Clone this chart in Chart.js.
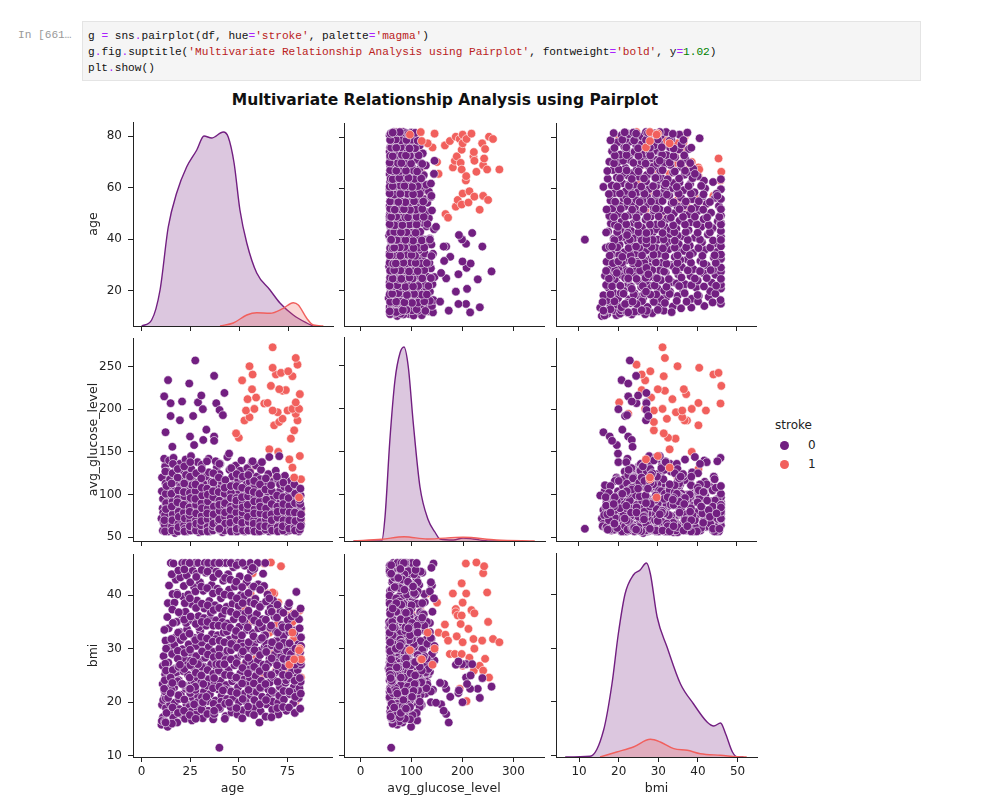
<!doctype html>
<html>
<head>
<meta charset="utf-8">
<title>pairplot - stroke</title>
<style>
  body { margin: 0; width: 1000px; height: 805px; position: relative; overflow: hidden; background: #fff; font-family: "DejaVu Sans", sans-serif; color: #222; }
  .prompt { position: absolute; left: 18px; top: 27px; font: 11.15px/16px "Liberation Mono", "DejaVu Sans Mono", monospace; color: #999; }
  .cell { position: absolute; left: 82px; top: 21px; width: 837px; height: 58px; background: #f5f5f5; border: 1px solid #e4e4e4; }
  .cell pre { margin: 0; padding: 6px 0 0 5px; font: 11.15px/16px "Liberation Mono", "DejaVu Sans Mono", monospace; color: #111; }
  .o { color: #aa22ff; } .s { color: #ba2121; } .n { color: #008000; }
  #title { position: absolute; left: 0; width: 890px; top: 91px; text-align: center; font-weight: bold; font-size: 15.5px; color: #111; }
  .panel { position: absolute; }
  .legend { position: absolute; font-size: 12px; color: #222; }
  .dot { position: absolute; width: 9px; height: 9px; border-radius: 50%; }
</style>
<script src="https://cdn.jsdelivr.net/npm/chart.js@4.4.0/dist/chart.umd.min.js"></script>
</head>
<body>
<div class="prompt">In [661…</div>
<div class="cell"><pre>g <span class="o">=</span> sns<span class="o">.</span>pairplot(df, hue<span class="o">=</span><span class="s">'stroke'</span>, palette<span class="o">=</span><span class="s">'magma'</span>)
g<span class="o">.</span>fig<span class="o">.</span>suptitle(<span class="s">'Multivariate Relationship Analysis using Pairplot'</span>, fontweight<span class="o">=</span><span class="s">'bold'</span>, y<span class="o">=</span><span class="n">1.02</span>)
plt<span class="o">.</span>show()</pre></div>
<div id="title">Multivariate Relationship Analysis using Pairplot</div>

<div class="legend" style="left:775px; top:418px;">stroke</div>
<div class="dot" style="left:780px; top:441px; background:#721f81;"></div>
<div class="legend" style="left:808px; top:438px;">0</div>
<div class="dot" style="left:780px; top:460px; background:#f1605d;"></div>
<div class="legend" style="left:808px; top:457px;">1</div>

<script>
// variables, in pairplot order: [age, avg_glucose_level, bmi]
const varNames = ['age', 'avg_glucose_level', 'bmi'];
const xTicks = [[0, 25, 50, 75], [0, 100, 200, 300], [10, 20, 30, 40, 50]];
const yTicks = [[20, 40, 60, 80], [50, 100, 150, 200, 250], [10, 20, 30, 40]];

// stroke = 0 records [age, avg_glucose_level, bmi]
const noStrokeA = [
  [10.2,72,15.8],[11.0,95,17.2],[10.5,120,19.5],[11.8,61,21.0],[10.8,84,23.4],[12.1,133,25.2],[11.3,67,28.6],[10.4,104,16.5],[12.5,88,18.9],[11.6,142,22.3],[10.9,58,26.8],[12.3,113,31.5],[11.1,79,20.4],
  [13.4,99,15.4],[14.2,65,18.0],[13.1,127,21.6],[14.8,83,24.9],[13.7,57,27.4],[14.5,110,30.2],[13.9,74,33.8],[14.1,140,41.8],[15.0,92,46.0],[13.5,61,38.5],[14.6,118,19.7],[15.2,69,23.0],[13.2,88,35.9],
  [16.3,60,17.1],[17.1,104,19.9],[16.7,76,22.7],[17.8,131,25.5],[16.1,89,28.9],[17.4,63,32.1],[18.0,115,35.0],[16.9,97,38.6],[17.6,70,42.9],[16.4,143,45.9],[18.3,82,16.2],[17.2,55,26.3],[16.8,124,30.7],[18.1,93,40.4],
  [19.4,71,18.7],[20.2,118,21.4],[19.1,86,24.1],[20.7,59,27.2],[21.0,102,29.9],[19.7,136,33.1],[20.4,66,36.4],[21.3,91,39.7],[19.9,109,43.3],[20.9,77,46.0],[19.2,58,20.6],[21.5,128,25.8],[20.1,95,31.6],[21.2,62,17.5],
  [22.3,84,16.9],[23.1,61,19.6],[22.8,123,22.5],[23.9,97,25.1],[22.0,70,28.0],[24.2,109,30.8],[23.4,57,33.6],[22.6,141,36.9],[24.0,79,40.1],[23.2,92,43.7],[22.4,64,46.0],[24.5,116,19.1],[23.7,75,27.0],[22.9,101,34.8],
  [25.3,58,18.2],[26.1,93,20.9],[25.6,130,23.8],[26.8,72,26.5],[25.0,105,29.3],[27.2,82,32.0],[26.4,63,35.2],[25.8,119,38.3],[27.0,96,41.5],[26.3,68,44.6],[27.5,87,46.0],[25.4,145,27.8],[26.9,60,24.0],[25.9,111,16.6],
  [28.2,99,17.8],[29.0,66,21.1],[28.6,114,24.6],[29.8,85,27.6],[28.0,59,30.5],[30.1,127,33.3],[29.3,76,36.1],[28.5,104,39.0],[30.0,62,42.4],[29.1,90,46.0],[28.8,138,20.0],[30.4,73,25.9],[29.5,56,34.0],[28.3,81,44.0],
  [31.2,77,19.3],[32.0,108,22.0],[31.5,62,24.8],[32.7,94,28.3],[31.0,135,31.1],[33.2,69,34.3],[32.3,100,37.5],[31.7,58,40.8],[33.0,121,44.2],[32.5,83,46.0],[31.4,91,17.0],[33.4,64,29.0],[32.1,112,35.7],[31.9,73,26.6],
  [34.3,88,18.4],[35.1,60,21.5],[34.6,126,24.3],[35.8,79,27.1],[34.0,103,29.8],[36.2,66,32.7],[35.4,94,35.6],[34.8,57,38.9],[36.0,115,41.9],[35.2,71,45.0],[34.5,142,30.3],[36.4,85,23.0],[35.6,62,36.7],[34.2,97,46.0],
  [37.2,64,17.6],[38.0,99,20.3],[37.5,80,23.5],[38.7,132,26.2],[37.0,59,29.4],[39.2,91,32.5],[38.3,107,35.3],[37.7,68,38.1],[39.0,85,41.2],[38.5,118,44.4],[37.4,74,46.0],[39.4,60,22.4],[38.1,139,31.8],[37.9,95,27.9],
  [40.3,75,18.8],[41.1,110,21.2],[40.6,58,24.0],[41.8,96,27.3],[40.0,124,30.0],[42.2,70,33.0],[41.4,87,36.2],[40.8,102,39.4],[42.0,63,42.7],[41.2,81,46.0],[40.4,136,25.7],[42.4,92,28.5],[41.6,56,35.0],[40.9,116,20.1],
  [43.2,98,17.4],[44.0,67,20.6],[43.5,113,23.2],[44.7,59,26.0],[43.0,84,28.8],[45.2,129,31.7],[44.3,76,34.7],[43.7,93,37.8],[45.0,61,41.0],[44.5,105,43.9],[43.4,71,46.0],[45.4,88,22.2],[44.1,144,29.6],[43.9,64,33.2],
  [46.3,62,18.1],[47.1,90,20.8],[46.6,121,23.9],[47.8,73,26.9],[46.0,100,29.7],[48.2,57,32.4],[47.4,84,35.5],[46.8,111,38.4],[48.0,69,41.6],[47.2,95,45.2],[46.4,78,46.0],[48.4,134,27.7],[47.6,58,24.5],[46.9,106,31.0],
  [49.3,85,17.7],[50.1,60,20.0],[49.6,106,22.8],[50.8,128,25.4],[49.0,71,28.2],[51.2,94,31.3],[50.3,58,34.1],[49.7,117,36.8],[51.0,80,40.0],[50.5,66,43.5],[49.4,101,46.0],[51.4,140,29.0],[50.0,75,24.4],[49.9,89,38.0],
  [52.2,70,18.5],[53.0,103,21.6],[52.6,59,24.2],[53.8,88,27.5],[52.0,119,30.4],[54.2,64,33.5],[53.3,95,36.6],[52.7,76,39.8],[54.0,112,42.4],[53.1,57,45.5],[52.4,82,29.0],[54.4,131,23.3],[53.5,67,20.2],[52.9,98,35.0],
  [55.3,91,18.0],[56.1,63,21.3],[55.6,115,24.6],[56.8,76,27.3],[55.0,58,30.1],[57.2,101,32.9],[56.4,84,35.9],[55.8,126,38.7],[57.0,68,41.4],[56.3,93,44.5],[55.4,61,26.1],[57.5,109,29.5],[56.7,138,22.0],[55.9,72,46.0],
  [58.2,59,19.0],[59.0,87,21.9],[58.6,107,24.9],[59.8,70,27.8],[58.0,96,30.9],[60.1,62,33.8],[59.3,121,36.5],[58.5,80,39.3],[60.0,99,42.0],[60.6,66,16.2],[58.8,134,26.4],[60.4,75,23.1],[59.5,57,31.8],[58.3,110,35.1],[59.7,88,46.0],
  [61.2,82,18.3],[62.0,60,21.0],[61.5,104,24.0],[62.7,72,27.0],[61.0,118,29.6],[63.2,91,32.6],[62.3,64,35.5],[61.7,97,38.2],[63.0,77,41.7],[62.5,58,44.0],[61.4,129,22.6],[63.4,86,30.4],[62.1,68,34.0],[63.6,72,46.0],
  [64.3,65,19.6],[65.1,98,22.4],[64.6,79,25.2],[65.8,58,28.1],[64.0,112,31.0],[66.2,88,33.9],[65.4,70,36.8],[64.8,103,40.1],[66.0,61,23.7],[65.2,124,27.2],[64.5,82,30.0],[66.4,94,37.6],[65.6,57,21.0],
  [67.2,93,18.6],[68.0,61,21.8],[67.5,115,24.7],[68.7,74,27.7],[67.0,84,30.6],[69.2,58,33.2],[68.3,101,36.0],[67.7,67,39.0],[69.0,128,25.6],[68.5,79,28.9],[67.4,95,20.1],[69.4,63,31.5],
  [70.3,71,19.9],[71.1,104,22.9],[70.6,59,25.8],[71.8,86,28.6],[70.0,118,31.4],[72.2,66,34.4],[71.4,92,37.0],[70.8,76,21.2],[72.0,58,26.5],[71.2,112,29.9],[70.4,82,17.7],[72.4,97,32.8],
  [73.2,60,20.5],[74.0,89,23.6],[73.5,109,26.7],[74.7,68,29.5],[73.0,77,32.3],[75.2,99,35.4],[74.3,57,24.1],[73.7,122,27.9],[75.0,84,22.0],[74.5,64,18.4],[73.4,95,30.9],[75.4,73,37.9],
  [76.3,92,21.5],[77.1,63,24.5],[76.6,78,27.4],[77.8,105,30.3],[76.0,58,33.1],[78.2,86,22.8],[77.4,70,25.9],[76.8,116,29.0],[78.0,61,19.8],[77.2,97,36.0],
  [79.2,66,21.8],[80.0,88,24.7],[79.5,59,27.6],[80.7,104,30.8],[79.0,75,33.4],[81.2,62,22.6],[80.3,93,26.0],[81.5,70,29.3],[82.0,84,32.1],[80.8,57,20.8],[81.8,99,23.8],[82.0,65,27.0],[79.6,96,40.6],[81.0,78,35.5]
];

// more stroke = 0 records filling the dense part of the cloud
const noStrokeB = [
  [12.0,76,16.4],[12.4,101,20.7],[11.9,64,24.1],[12.2,127,27.2],[12.6,90,30.0],[11.7,70,33.5],[12.8,110,18.0],[12.0,57,22.0],[12.5,83,25.9],
  [15.6,63,16.0],[15.9,92,19.0],[15.4,113,22.2],[16.0,77,26.0],[15.7,58,29.0],[15.3,101,31.8],[16.1,136,34.8],[15.8,70,37.3],[15.5,86,43.9],[15.9,125,40.2],
  [18.7,95,18.0],[18.9,66,21.3],[18.5,120,23.9],[19.0,80,26.6],[18.6,57,29.6],[18.8,105,33.0],[19.1,74,36.8],[18.4,91,40.1],[18.9,62,44.6],[18.6,130,28.1],
  [21.8,64,18.4],[22.0,98,20.5],[21.7,79,23.2],[21.9,133,26.2],[22.1,60,29.2],[21.6,88,32.2],[21.9,113,35.4],[22.2,72,38.5],[21.7,103,41.7],[22.0,57,44.8],
  [24.8,102,17.6],[25.0,69,21.7],[24.7,85,24.6],[25.1,58,26.9],[24.9,121,29.8],[24.6,76,32.8],[25.2,96,36.0],[24.8,63,39.4],[25.0,138,42.4],[24.7,80,46.0],
  [27.8,61,16.9],[28.0,88,19.2],[27.7,104,22.3],[27.9,70,25.5],[28.1,125,28.6],[27.6,95,31.6],[27.9,58,34.6],[28.0,78,37.6],[27.7,112,40.7],[28.1,66,43.4],
  [30.8,90,18.6],[31.0,57,20.9],[30.7,119,23.7],[30.9,75,26.6],[31.1,99,29.5],[30.6,64,32.2],[30.9,130,35.0],[31.0,84,38.4],[30.7,69,41.6],[30.9,108,44.7],
  [33.8,59,17.8],[34.0,84,20.2],[33.7,107,23.1],[33.9,71,26.0],[34.1,92,28.9],[33.6,139,31.9],[33.9,62,35.0],[34.0,100,38.1],[33.7,78,41.3],[33.9,57,44.4],
  [36.8,97,16.8],[37.0,72,19.7],[36.7,58,22.6],[36.9,114,25.3],[37.1,86,28.4],[36.6,63,31.3],[36.9,125,34.3],[37.0,77,37.2],[36.7,104,40.3],[36.9,66,43.3],
  [39.8,68,19.0],[40.0,93,22.9],[39.7,120,25.9],[39.9,59,28.7],[40.1,81,31.5],[39.6,103,34.3],[39.9,71,37.6],[40.0,136,40.7],[39.7,60,44.0],[39.9,88,46.0],
  [42.8,87,16.9],[43.0,61,19.7],[42.7,101,22.4],[42.9,74,25.1],[43.1,117,27.9],[42.6,58,31.2],[42.9,90,34.2],[43.0,66,37.1],[42.7,108,40.1],[42.9,79,43.2],
  [45.8,73,19.1],[46.0,102,22.0],[45.7,60,25.0],[45.9,86,28.0],[46.1,131,30.9],[45.6,67,33.9],[45.9,96,36.9],[46.0,57,39.9],[45.7,82,42.9],[45.9,110,46.0],
  [48.8,96,18.9],[49.0,63,21.7],[48.7,79,24.6],[48.9,110,27.3],[49.1,57,30.2],[48.6,88,33.3],[48.9,124,36.4],[49.0,70,39.4],[48.7,93,42.5],[48.9,60,45.6],
  [51.8,62,17.0],[52.0,90,20.6],[51.7,108,23.5],[51.9,74,26.4],[52.1,58,29.5],[51.6,97,32.5],[51.9,79,35.5],[52.0,121,38.5],[51.7,67,41.5],[51.9,85,46.0],
  [54.8,82,19.2],[55.0,59,22.3],[54.7,98,25.4],[54.9,123,28.3],[55.1,68,31.2],[54.6,88,34.0],[54.9,58,37.1],[55.0,105,40.4],[54.7,74,43.2],
  [57.8,70,17.6],[58.0,97,20.4],[57.7,61,23.5],[57.9,116,26.6],[58.1,83,29.7],[57.6,66,32.3],[57.9,92,35.3],[58.0,57,38.4],[57.7,103,41.6],[57.9,78,44.9],
  [60.8,92,19.6],[61.0,68,22.7],[60.7,57,25.8],[60.9,112,28.8],[61.1,78,31.7],[60.6,101,34.8],[60.9,63,37.8],[61.0,86,41.0],
  [63.8,59,17.3],[64.0,84,20.4],[63.7,106,23.4],[63.9,71,26.5],[64.1,94,29.4],[63.6,63,32.5],[63.9,119,35.4],[64.0,76,38.8],
  [66.8,77,17.2],[67.0,104,22.1],[66.7,62,25.1],[66.9,89,28.2],[67.1,58,31.2],[66.6,111,34.3],[66.9,70,36.9],
  [69.8,86,18.9],[70.0,62,23.8],[69.7,99,26.9],[69.9,73,29.9],[70.1,57,33.0],[69.6,121,35.8],[69.9,80,38.2],
  [72.8,97,19.1],[73.0,70,22.1],[72.7,58,25.1],[72.9,114,28.1],[73.1,81,31.1],[72.6,63,34.0],[72.9,89,36.7],
  [75.8,66,19.0],[76.0,87,22.0],[75.7,107,25.0],[75.9,60,28.0],[76.1,79,31.0],[75.6,96,34.0],[75.9,70,38.5],
  [78.8,79,18.0],[79.0,101,21.0],[78.7,61,24.0],[78.9,90,27.0],[79.1,69,30.0],[78.6,112,33.0],[78.9,58,36.5],
  [81.6,89,18.8],[81.9,72,21.6],[81.4,59,24.5],[81.7,107,27.5],[82.0,77,30.5],[81.3,94,33.8],[81.8,63,37.5]
];

// stroke = 0 records with high glucose or low bmi
const noStrokeHigh = [
  [27.6,257,22.9],[13.6,234,20.8],[24.5,230,22.5],[37.3,239,24.5],[11.6,215,22.5],[14.9,207,24.6],[20.8,209,23.4],[29.0,208,27.1],[30.7,216,25.0],[31.5,200,20.0],
  [38.4,207,27.1],[40.1,199,27.1],[42.6,219,27.1],[14.9,192,21.7],[19.7,187,27.0],[26.5,192,27.6],[41.8,193,22.2],[33.3,176,21.0],[12.3,173,16.2],[24.9,168,22.5],
  [37.3,168,17.8],[31.7,164,23.4],[27.0,158,19.6],[15.8,156,23.6],[37.3,163,18.4],[45.0,148,19.9],[57.1,139,45.1],[65.7,144,39.4],[70.8,145,30.5],[61.9,138,32.0],[40.0,60,11.5]
];

// stroke = 1 records [age, avg_glucose_level, bmi], mostly hidden under the purple cloud
const withStroke = [
  [65.7,153,33.0],[76.8,165.5,34.5],[50.0,166.6,32.6],[48.6,171.7,31.5],[78.5,175.2,29.0],[68.2,181.1,40.3],[70.8,185,29.0],[52.9,186.8,37.4],
  [80.2,186.8,36.8],[72.5,188.7,32.3],[55.5,190.6,36.2],[79.3,194.5,22.5],[70.0,196.4,34.6],[53.7,198.4,42.2],[67.4,198.4,29.0],[75.1,198.4,36.2],
  [58.0,200.3,38.6],[77.6,200.3,31.2],[81.0,200.3,26.8],[63.1,206.6,45.9],[64.8,207.3,40.3],[79.3,207.9,20.2],[54.5,211.7,33.7],[58.9,213.6,28.3],
  [81.4,217.6,37.2],[72.5,221.5,31.8],[74.2,222.3,25.9],[56.8,223.3,30.0],[70.8,223.4,36.6],[66.5,227.3,46.1],[51.7,233.7,26.8],[77.6,238.6,31.5],
  [57.1,240.6,44.1],[69.1,240.6,25.9],[71.7,242.5,45.4],[75.4,244.4,28.1],[67.4,248.4,40.5],[55.5,250.3,35.0],[80.2,252.1,24.6],[79.3,259.9,31.8],[67.4,272.4,31.2],
  [58.9,120,35.0],[61.5,116.1,25.0],[67.4,118,37.0],[74.2,112.2,24.0],
  [76.8,104.5,30.0],[80.2,108.3,26.5],[78.5,92.8,32.0],[79.3,85.1,25.0],[81.0,73.4,28.0],[77.6,63.7,35.0],[75.5,57.9,30.0],
  [82.0,82,24.6],[78.0,100,36.5],[73.0,90,34.4],[82.0,70,28.0],[74.0,78,26.3],[70.3,150,38.6],[56.0,130,40.3]
];
// stroke = 1 records that land late in the data and show over the purple cloud
const withStrokeTop = [
  [81.4,145.2,30.0],[76.0,141.2,27.0],[77.6,131.6,33.0],[82.0,118,28.0],[81.0,96.7,29.7],[78.5,120,28.0]
];

// diagonal kde curves (x value, density height)
const ageKdeX0 = [0, 5.1, 9.4, 13.6, 17.9, 23, 28.2, 31.9, 35.8, 41.8, 44.3, 47.3, 50.3, 53.8, 58.9, 65.7, 70.8, 77.6, 84.5, 87.9];
const ageKdeY0 = [0, 6, 36, 99, 133, 159, 176, 190, 188, 194, 189, 163, 116, 83, 53, 36, 23, 11, 3, 0];
const ageKdeX1 = [40.1, 46.9, 53.8, 58.9, 65.7, 72.5, 77.6, 80.2, 84.5, 87.9, 93];
const ageKdeY1 = [0, 3, 11, 13.3, 12.7, 17.7, 23.3, 21, 7.7, 1, 0];
const glucoseKdeX0 = [-14, 41, 47.5, 57, 67, 76.8, 84.6, 93, 102.7, 115.8, 132, 145, 155, 181, 200, 220, 252, 272];
const glucoseKdeY0 = [0, 0, 24, 101, 161, 188, 194, 174, 118, 54, 21, 9, 2, 1, 3, 2, 0, 0];
const glucoseKdeX1 = [-14, 41, 85, 130, 200, 265, 340];
const glucoseKdeY1 = [0, 1.7, 4.3, 2, 3.7, 1, 0];
const bmiKdeX0 = [6.5, 12.8, 16.2, 18.3, 19.9, 21.6, 23.7, 25.4, 27, 28, 29.7, 32.2, 35.6, 38.9, 42.3, 44, 45.7, 47, 48.7, 50, 51.5];
const bmiKdeY0 = [0, 0.7, 27, 73, 123, 163, 182, 187, 194, 183, 140, 110, 73, 53, 35, 31, 34, 23, 5, 0, 0];
const bmiKdeX1 = [15.3, 19.5, 23.7, 28, 30.5, 33.9, 37.3, 40.6, 45.7, 51.5, 52.3];
const bmiKdeY1 = [0, 5, 10, 17.7, 15, 8.3, 6.7, 3.3, 1.7, 0, 0];

const kdeX0 = [ageKdeX0, glucoseKdeX0, bmiKdeX0], kdeY0 = [ageKdeY0, glucoseKdeY0, bmiKdeY0];
const kdeX1 = [ageKdeX1, glucoseKdeX1, bmiKdeX1], kdeY1 = [ageKdeY1, glucoseKdeY1, bmiKdeY1];

// layout of the 3x3 grid (pixels)
const colLeft = [133, 344, 556], colWidth = [200, 201, 201];
const rowTop = [122, 337, 553], rowHeight = 204;
const xRange = [[-4.45, 97.95], [-32.6, 360], [4.18, 54.9]];
const yRange = [[6.29, 85.55], [45.7, 283.3], [9.76, 47.68]];
const YW = 60, XH = 45, PT = 4, PR = 4;

const PURPLE = '#721f81', CORAL = '#f1605d';
Chart.defaults.font.family = "'DejaVu Sans', sans-serif";
Chart.defaults.color = '#222';

const noStroke = noStrokeA.concat(noStrokeB, noStrokeHigh);

function pairs(rows, c, r) {
  return rows.map(row => ({x: row[c], y: row[r]}));
}
function curve(xs, ys) {
  return xs.map((x, i) => ({x: x, y: ys[i]}));
}

function scatterSet(data, color, order) {
  return {data: data, order: order, pointRadius: 4.3, pointBackgroundColor: color,
          pointBorderColor: 'rgba(255,255,255,0.85)', pointBorderWidth: 0.7, showLine: false};
}
function kdeSet(data, color, fillColor, order) {
  return {data: data, order: order, yAxisID: 'yd', borderColor: color, borderWidth: 1.4,
          backgroundColor: fillColor, fill: 'origin', pointRadius: 0, cubicInterpolationMode: 'monotone'};
}

function makePanel(r, c) {
  const W = YW + colWidth[c] + PR, H = PT + rowHeight + XH;
  const div = document.createElement('div');
  div.className = 'panel';
  div.style.left = (colLeft[c] - YW) + 'px';
  div.style.top = (rowTop[r] - PT) + 'px';
  const cv = document.createElement('canvas');
  cv.width = W; cv.height = H;
  cv.style.width = W + 'px'; cv.style.height = H + 'px';
  div.appendChild(cv);
  document.body.appendChild(div);

  const grid = {drawOnChartArea: false, drawTicks: true, tickLength: 5, tickColor: '#222', tickWidth: 1};
  const border = {display: true, color: '#222', width: 1};
  const scales = {
    x: {type: 'linear', position: 'bottom', min: xRange[c][0], max: xRange[c][1],
        afterBuildTicks: s => { s.ticks = xTicks[c].map(v => ({value: v})); },
        afterFit: s => { s.height = XH; s.paddingLeft = 0; s.paddingRight = 0; },
        ticks: {display: r === 2, autoSkip: false, maxRotation: 0, padding: 3, color: '#222', font: {size: 12}},
        grid: grid, border: border,
        title: {display: r === 2, text: varNames[c], color: '#222', font: {size: 12.5}, padding: {top: 0, bottom: 5.5}}},
    y: {type: 'linear', position: 'left', min: yRange[r][0], max: yRange[r][1],
        afterBuildTicks: s => { s.ticks = yTicks[r].map(v => ({value: v})); },
        afterFit: s => { s.width = YW; s.paddingTop = 0; s.paddingBottom = 0; },
        ticks: {display: c === 0, autoSkip: false, padding: 6, color: '#222', font: {size: 12}},
        grid: grid, border: border,
        title: {display: c === 0, text: varNames[r], color: '#222', font: {size: 12.5}, padding: {top: 13.5, bottom: 0}}}
  };

  let type, datasets;
  if (r === c) {
    type = 'line';
    scales.yd = {type: 'linear', display: false, min: 0, max: rowHeight};
    datasets = [
      kdeSet(curve(kdeX1[c], kdeY1[c]), CORAL, 'rgba(241,96,93,0.25)', 0),
      kdeSet(curve(kdeX0[c], kdeY0[c]), PURPLE, 'rgba(114,31,129,0.25)', 1)
    ];
  } else {
    type = 'scatter';
    // order 0 is drawn last (on top)
    datasets = [
      scatterSet(pairs(withStrokeTop, c, r), CORAL, 0),
      scatterSet(pairs(noStroke, c, r), PURPLE, 1),
      scatterSet(pairs(withStroke, c, r), CORAL, 2)
    ];
  }

  new Chart(cv, {
    type: type,
    data: {datasets: datasets},
    options: {
      responsive: false, animation: false, events: [],
      layout: {padding: {left: 0, top: PT, right: PR, bottom: 0}},
      plugins: {legend: {display: false}, tooltip: {enabled: false}},
      scales: scales
    }
  });
}

for (let r = 0; r < 3; r++) {
  for (let c = 0; c < 3; c++) makePanel(r, c);
}
</script>
</body>
</html>
